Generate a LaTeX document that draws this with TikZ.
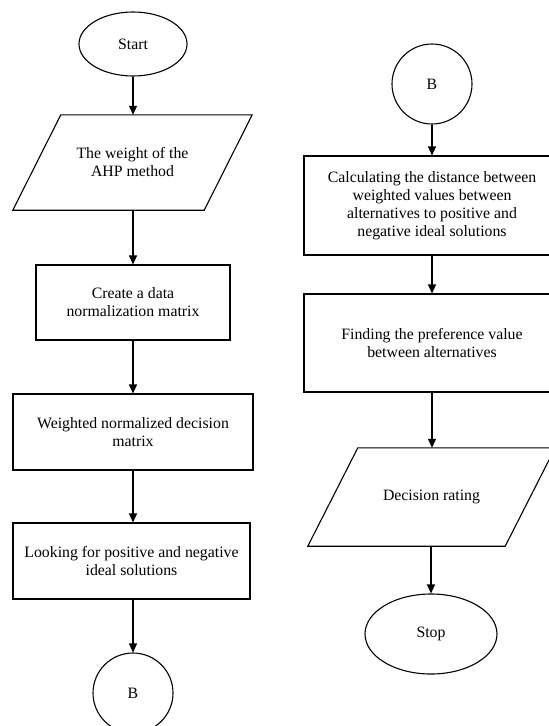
\documentclass[tikz,border=0pt]{standalone}
\usepackage{fontspec}
\setmainfont{Liberation Serif}
\usetikzlibrary{arrows.meta,shapes.geometric}
\tikzset{
  txt/.style={font=\fontsize{15.8}{18}\selectfont},
  base/.style={draw=black, line width=1.1pt, inner sep=0pt, align=center, txt},
  procbox/.style={base, rectangle, minimum width=#1},
  term/.style={base, ellipse, minimum width=#1},
  conn/.style={base, circle, minimum size=80pt},
  iobox/.style={rectangle, inner sep=0pt, align=center, txt, minimum width=#1},
  flow/.style={line width=1.1pt, -{Triangle[width=8pt,length=9pt]}},
  para/.style={line width=1.1pt, line join=miter}
}
\begin{document}
\begin{tikzpicture}[x=1pt,y=-1pt]
\useasboundingbox (0,0) rectangle (549,726);
\clip (0,0) rectangle (549,726);
% left column
\node[term=108pt, minimum height=64pt] (start) at (133,44) {Start};
\node[iobox=239pt, minimum height=95pt] (w) at (132.5,162.5) {The weight of the\\AHP method};
\draw[para] ([xshift=48pt]w.north west) -- (w.north east) -- ([xshift=-48pt]w.south east) -- (w.south west) -- cycle;
\node[procbox=194pt, minimum height=75pt] (norm) at (133,302.5) {Create a data\\normalization matrix};
\node[procbox=240pt, minimum height=76pt] (wn) at (133,432) {Weighted normalized decision\\matrix};
\node[procbox=237pt, minimum height=76pt] (ideal) at (131.5,561) {Looking for positive and negative\\ideal solutions};
\node[conn] (b1) at (133,693) {B};
\draw[flow] (start.south) -- (w.north -| start.south);
\draw[flow] (w.south -| norm.north) -- (norm.north);
\draw[flow] (norm.south) -- (wn.north);
\draw[flow] (wn.south) -- (ideal.north -| wn.south);
\draw[flow] (ideal.south -| b1.north) -- (b1.north);
% right column
\node[conn] (b2) at (432,84) {B};
\node[procbox=256pt, minimum height=99pt] (dist) at (432,205.5) {Calculating the distance between\\weighted values between\\alternatives to positive and\\negative ideal solutions};
\node[procbox=256pt, minimum height=98pt] (pref) at (432,343) {Finding the preference value\\between alternatives};
\node[iobox=247pt, minimum height=98pt] (rate) at (431.5,497) {Decision rating};
\draw[para] ([xshift=50pt]rate.north west) -- (rate.north east) -- ([xshift=-50pt]rate.south east) -- (rate.south west) -- cycle;
\node[term=132pt, minimum height=80pt] (stop) at (431,634) {Stop};
\draw[flow] (b2.south) -- (dist.north);
\draw[flow] (dist.south) -- (pref.north);
\draw[flow] (pref.south) -- (rate.north -| pref.south);
\draw[flow] (rate.south -| stop.north) -- (stop.north);
\end{tikzpicture}
\end{document}
